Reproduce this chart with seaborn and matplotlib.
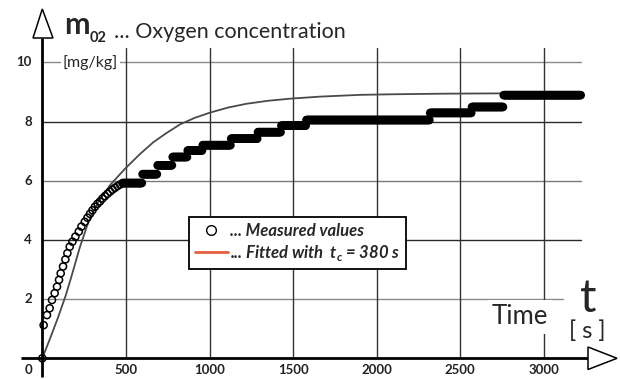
import numpy as np
import pandas as pd
import matplotlib
matplotlib.use("Agg")
import matplotlib.pyplot as plt
import seaborn as sns
from matplotlib.patches import Polygon
from matplotlib.lines import Line2D

# ---------------- data ----------------
early_t = [0, 8, 28, 44, 58, 74, 88, 100, 110, 124, 138, 150, 164, 180, 198,
           218, 234, 254, 270, 285, 300, 315, 330, 345, 360, 375, 390, 405,
           420, 435, 450, 465]
early_y = [0.0, 1.12, 1.46, 1.69, 1.97, 2.20, 2.42, 2.65, 2.87, 3.10, 3.34,
           3.55, 3.77, 3.94, 4.11, 4.28, 4.45, 4.61, 4.75, 4.88, 5.00, 5.12,
           5.22, 5.30, 5.40, 5.48, 5.56, 5.63, 5.70, 5.76, 5.82, 5.87]
# quantised plateaus of the measured signal (start, end, level)
step_start = [480, 600, 690, 780, 870, 960, 1130, 1290, 1430, 1580, 2320, 2570, 2760]
step_end = [600, 690, 780, 870, 960, 1130, 1290, 1430, 1580, 2320, 2570, 2760, 3225]
step_level = [5.92, 6.22, 6.52, 6.80, 7.02, 7.20, 7.42, 7.64, 7.86, 8.05, 8.29, 8.49, 8.89]
sample_dt = 5

fit_t = [0, 50, 94, 140, 174, 224, 274, 330, 405, 494, 584, 664, 740, 823,
         910, 1003, 1110, 1222, 1350, 1480, 1660, 1900, 2100, 2400, 2740, 3000, 3225]
fit_y = [0.0, 0.72, 1.38, 2.12, 2.76, 3.74, 4.58, 5.24, 5.85, 6.40, 6.90, 7.30,
         7.60, 7.90, 8.12, 8.30, 8.47, 8.60, 8.70, 8.77, 8.84, 8.90, 8.92, 8.94,
         8.95, 8.96, 8.96]

x_ticks = [500, 1000, 1500, 2000, 2500, 3000]
y_ticks = [2, 4, 6, 8, 10]

meas_t = list(early_t)
meas_y = list(early_y)
for s, e, lv in zip(step_start, step_end, step_level):
    ts = np.arange(s, e, sample_dt)
    meas_t += list(ts)
    meas_y += [lv] * len(ts)
meas = pd.DataFrame({"t": meas_t, "m": meas_y})
fit = pd.DataFrame({"t": fit_t, "m": fit_y})

# ---------------- styling ----------------
sns.set_style("white")
plt.rcParams["font.family"] = ["Lato", "DejaVu Sans"]
plt.rcParams["mathtext.fontset"] = "custom"
plt.rcParams["mathtext.rm"] = "Lato"

W, H = 620, 379
fig = plt.figure(figsize=(W / 100, H / 100), dpi=100)
ax = fig.add_axes([0, 0, 1, 1])
ax.set_axis_off()

# pixel <-> data mapping (origin at px (42.3, 358.3))
X0, SX, Y0, SY = 42.3, 0.1672, 358.3, 29.6
def tx(px):
    return (px - X0) / SX
def vy(py):
    return (Y0 - py) / SY
ax.set_xlim(tx(0), tx(W))
ax.set_ylim(vy(H), vy(0))

# grid
grid_col = {2: "#8a8a8a", 4: "#2a2a2a", 6: "#7a7a7a", 8: "#2a2a2a", 10: "#8a8a8a"}
for yv in y_ticks:
    xend = tx(563) if yv == 2 else tx(581)
    ax.plot([0, xend], [yv, yv], color=grid_col[yv], lw=1.0, zorder=1)
for xv in x_ticks:
    ax.plot([xv, xv], [0, vy(48)], color="#333333", lw=1.0, zorder=1)

# data
sns.lineplot(data=fit, x="t", y="m", color="#4a4a4a", lw=1.3, sort=False,
             ax=ax, zorder=2, legend=False)
sns.scatterplot(data=meas, x="t", y="m", marker="o", s=26, facecolors="none",
                edgecolor="black", linewidth=1.1, ax=ax, zorder=3, legend=False)
ax.set_xlabel("")
ax.set_ylabel("")

# axes with open arrow heads
ax.plot([tx(21), tx(588)], [0, 0], color="black", lw=2.0, zorder=4,
        solid_capstyle="butt")
ax.add_patch(Polygon([[tx(588), vy(347)], [tx(617), 0], [tx(588), vy(369.5)]],
                     closed=True, fc="white", ec="black", lw=1.1, zorder=4))
ax.plot([0, 0], [vy(377), vy(38)], color="black", lw=2.0, zorder=4,
        solid_capstyle="butt")
ax.add_patch(Polygon([[tx(33), vy(38)], [0, vy(9)], [tx(53), vy(38)]],
                     closed=True, fc="white", ec="black", lw=1.1, zorder=4))

# tick labels
for xv in x_ticks:
    ax.text(xv, vy(370), str(xv), ha="center", va="center", fontsize=9.5,
            fontweight="bold", color="#222222")
for yv in y_ticks:
    ax.text(tx(32), yv, str(yv), ha="right", va="center", fontsize=9.5,
            fontweight="bold", color="#222222")
ax.text(tx(32), vy(370), "0", ha="right", va="center", fontsize=9.5,
        fontweight="bold", color="#222222")

# titles / labels
ax.text(tx(64), vy(34), "m", fontsize=22, fontweight="bold", ha="left",
        va="baseline")
ax.text(tx(90), vy(42), "02", fontsize=10.5, fontweight="bold", ha="left",
        va="baseline")
ax.text(tx(114), vy(37.5), "... Oxygen concentration", fontsize=15.5,
        ha="left", va="baseline")
ax.text(tx(63), 10, "[mg/kg]", fontsize=11.5, ha="left", va="center",
        bbox=dict(fc="white", ec="none", pad=1.5), zorder=2)
ax.text(tx(520), vy(317), "Time", fontsize=18.5, ha="center", va="center",
        bbox=dict(fc="white", ec="none", pad=3), zorder=2)
ax.text(tx(588), vy(312), "t", fontsize=33, ha="center", va="baseline")
ax.text(tx(587), vy(331), "[ s ]", fontsize=17, ha="center", va="center")

# legend
handles = [
    Line2D([], [], marker="o", ls="", mfc="none", mec="black", mew=1.0, ms=7),
    Line2D([], [], color="#e2603a", lw=2.0),
]
labels = ["... Measured values", "... Fitted with  t$_\\mathregular{c}$ = 380 s"]
leg = ax.legend(handles, labels, loc="upper left",
                bbox_to_anchor=(189 / W, 1 - 216.7 / H), frameon=True,
                fancybox=False, framealpha=1, edgecolor="black",
                borderpad=0.35, handlelength=2.0, handletextpad=0.1,
                labelspacing=0.25, borderaxespad=0,
                prop=dict(family=["Lato", "DejaVu Sans"], weight="bold",
                          style="italic", size=12))
leg.get_frame().set_linewidth(1.3)
leg.set_zorder(6)

fig.savefig("out.png", dpi=100)
